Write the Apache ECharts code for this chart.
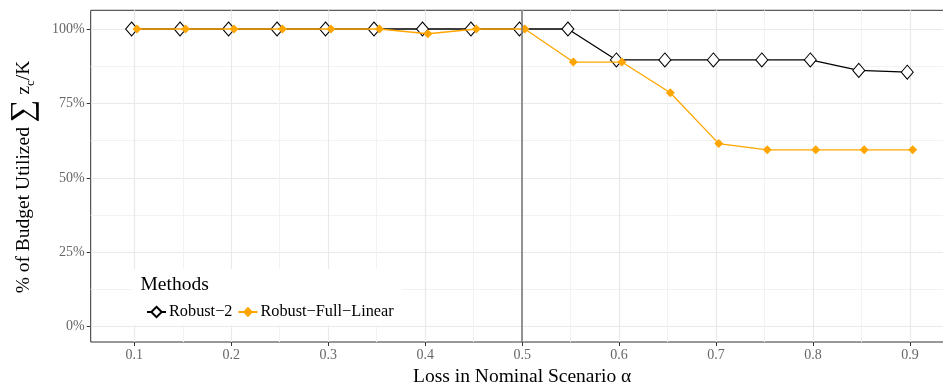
<!DOCTYPE html>
<html>
<head>
<meta charset="utf-8">
<script src="https://cdn.jsdelivr.net/npm/echarts@6/dist/echarts.min.js"></script>
<style>
  html, body { margin: 0; padding: 0; background: #fff; }
  #chart { width: 943px; height: 384px; }
</style>
</head>
<body>
<div id="chart"></div>
<script>
// Loss in nominal scenario (alpha) on the x axis
const alphas = [0.1, 0.15, 0.2, 0.25, 0.3, 0.35, 0.4, 0.45, 0.5, 0.55, 0.6, 0.65, 0.7, 0.75, 0.8, 0.85, 0.9];
// Share of budget utilized by each method
const robust2 = [1, 1, 1, 1, 1, 1, 1, 1, 1, 1, 0.896, 0.896, 0.896, 0.896, 0.896, 0.861, 0.855];
const robustFullLinear = [1, 1, 1, 1, 1, 1, 0.984, 1, 1, 0.889, 0.889, 0.786, 0.615, 0.594, 0.594, 0.594, 0.594];
const seriesNames = ['Robust\u22122', 'Robust\u2212Full\u2212Linear'];
const xTicks = [0.1, 0.2, 0.3, 0.4, 0.5, 0.6, 0.7, 0.8, 0.9];
const yTicks = [0, 0.25, 0.5, 0.75, 1];
const cutoff = 0.5;

const FONT = "'Liberation Serif', 'DejaVu Serif', serif";

// panel geometry (pixels)
const P = { left: 90.7, top: 10.3, width: 862.9, height: 331.7 };
const xPx = { at01: 134.3, perUnit: 969.6 };
const yPx = { at1: 29, at0: 326.7 };

const xMin = xTicks[0] - (xPx.at01 - P.left) / xPx.perUnit;
const xMax = xMin + P.width / xPx.perUnit;
const yPer = yPx.at0 - yPx.at1;
const yMin = -(P.top + P.height - yPx.at0) / yPer;
const yMax = 1 + (yPx.at1 - P.top) / yPer;
const dodge = 0.0028;

const pairs = v => alphas.map((a, i) => [a, v[i]]);

const chart = echarts.init(document.getElementById('chart'), null, { renderer: 'canvas' });

chart.setOption({
  animation: false,
  backgroundColor: '#fff',
  grid: [
    // 0: data panel with border
    { left: P.left, top: P.top, width: P.width, height: P.height, show: true,
      borderColor: '#333', borderWidth: 1, backgroundColor: 'transparent', outerBoundsMode: 'none' },
    // 1: x ticks / vertical grid lines, full panel height
    { left: xPx.at01, top: P.top, width: xPx.perUnit * (xTicks[xTicks.length - 1] - xTicks[0]), height: P.height, outerBoundsMode: 'none' },
    // 2: y ticks / horizontal grid lines, full panel width
    { left: P.left, top: yPx.at1, width: P.width, height: yPer, outerBoundsMode: 'none' }
  ],
  xAxis: [
    { gridIndex: 0, type: 'value', min: xMin + dodge, max: xMax + dodge, show: false },
    { gridIndex: 0, type: 'value', min: xMin - dodge, max: xMax - dodge, show: false },
    { gridIndex: 1, type: 'value', min: xTicks[0], max: xTicks[xTicks.length - 1], interval: 0.1,
      axisLine: { show: false },
      axisTick: { show: true, length: 4, lineStyle: { color: '#333', width: 1 } },
      axisLabel: { color: '#666', fontFamily: FONT, fontSize: 14, margin: 6,
        formatter: v => v.toFixed(1) },
      splitLine: { show: true, lineStyle: { color: '#e9e9e9', width: 1.2 } },
      minorTick: { show: false, splitNumber: 2 },
      minorSplitLine: { show: true, lineStyle: { color: '#f2f2f2', width: 1 } },
      name: 'Loss in Nominal Scenario \u03b1', nameLocation: 'middle', nameGap: 23,
      nameTextStyle: { color: '#000', fontFamily: FONT, fontSize: 19.5 }
    },
    { gridIndex: 2, type: 'value', min: 0, max: 1, show: false }
  ],
  yAxis: [
    { gridIndex: 0, type: 'value', min: yMin, max: yMax, show: false },
    { gridIndex: 1, type: 'value', min: 0, max: 1, show: false },
    { gridIndex: 2, type: 'value', min: 0, max: 1, interval: 0.25,
      axisLine: { show: false },
      axisTick: { show: true, length: 4, lineStyle: { color: '#333', width: 1 } },
      axisLabel: { color: '#666', fontFamily: FONT, fontSize: 14, margin: 6,
        formatter: v => Math.round(v * 100) + '%' },
      splitLine: { show: true, lineStyle: { color: '#e9e9e9', width: 1.2 } },
      minorTick: { show: false, splitNumber: 2 },
      minorSplitLine: { show: true, lineStyle: { color: '#f2f2f2', width: 1 } }
    }
  ],
  legend: {
    data: seriesNames,
    left: 141, top: 299,
    orient: 'horizontal',
    itemWidth: 19, itemHeight: 13, itemGap: 5,
    textStyle: { color: '#000', fontFamily: FONT, fontSize: 16.3, padding: [0, 0, 0, -2] },
    z: 10
  },
  graphic: [
    { type: 'rect', z: 8, silent: true,
      shape: { x: 131.7, y: 269, width: 270, height: 56 },
      style: { fill: '#fff' } },
    { type: 'text', z: 9, silent: true, left: 140.5, top: 275,
      style: { text: 'Methods', fill: '#000', font: "19.5px 'Liberation Serif', serif" } },
    { type: 'text', z: 9, silent: true, x: 24, y: 177, rotation: Math.PI / 2,
      style: {
        text: '{t|% of Budget Utilized }{s|\u2211}{t| z}{u|c}{t|/K}',
        align: 'center', verticalAlign: 'middle',
        rich: {
          t: { fontFamily: FONT, fontSize: 19.5, fill: '#000', verticalAlign: 'middle', lineHeight: 32 },
          s: { fontFamily: FONT, fontSize: 32, fill: '#000', verticalAlign: 'middle', lineHeight: 32 },
          u: { fontFamily: FONT, fontSize: 13, fill: '#000', verticalAlign: 'bottom', lineHeight: 32, padding: [0, 0, 3, 0] }
        }
      } }
  ],
  series: [
    { // reference line at the cutoff
      type: 'line', xAxisIndex: 2, yAxisIndex: 1, data: [], silent: true,
      markLine: { symbol: 'none', silent: true, label: { show: false },
        lineStyle: { color: '#7a7a7a', width: 1.6, type: 'solid' },
        data: [{ xAxis: cutoff }] },
      z: 1
    },
    {
      name: seriesNames[0], type: 'line', xAxisIndex: 0, yAxisIndex: 0,
      data: pairs(robust2),
      symbol: 'diamond', symbolSize: [12, 14],
      itemStyle: { color: '#fff', borderColor: '#000', borderWidth: 1 },
      lineStyle: { color: '#000', width: 1.3 },
      z: 3
    },
    {
      name: seriesNames[1], type: 'line', xAxisIndex: 1, yAxisIndex: 0,
      data: pairs(robustFullLinear),
      symbol: 'diamond', symbolSize: [9, 9],
      itemStyle: { color: '#ffa500', borderColor: '#ffa500', borderWidth: 0 },
      lineStyle: { color: '#ffa500', width: 1.3 },
      z: 4
    }
  ]
});
</script>
</body>
</html>
